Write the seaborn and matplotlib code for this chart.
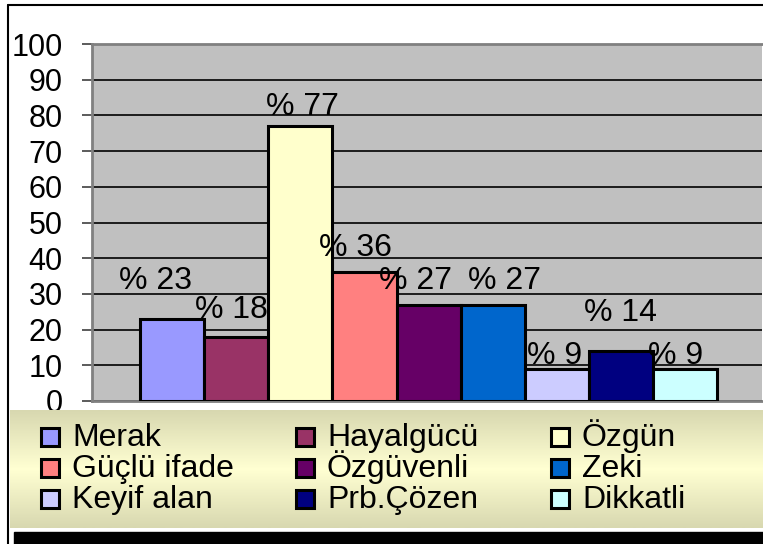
import numpy as np
import pandas as pd
import matplotlib
matplotlib.use("Agg")
import matplotlib.pyplot as plt
import seaborn as sns
from matplotlib.patches import Rectangle
from matplotlib.lines import Line2D

categories = ["Merak", "Hayalgücü", "Özgün", "Güçlü ifade", "Özgüvenli",
              "Zeki", "Keyif alan", "Prb.Çözen", "Dikkatli"]
values = [23, 18, 77, 36, 27, 27, 9, 14, 9]
colors = ["#9999FF", "#993366", "#FFFFCC", "#FF8080", "#660066",
          "#0066CC", "#CCCCFF", "#000080", "#CCFFFF"]
yticks = [0, 10, 20, 30, 40, 50, 60, 70, 80, 90, 100]

# label nudges (pixels) so the value labels sit like in the original
label_dx = [-17, -5, 2, -9, -13, 12, -2, 0, -9]
label_dy = [30, 19, 11, 16, 16, 16, 5, 30, 5]

df = pd.DataFrame({"cat": categories, "val": values})

sns.set_style("white")
plt.rcParams["font.family"] = ["Liberation Sans", "DejaVu Sans"]
plt.rcParams["text.color"] = "black"
plt.rcParams["ytick.labelcolor"] = "black"

W, H = 763, 544
fig = plt.figure(figsize=(W / 100, H / 100), dpi=100)
fig.patch.set_facecolor("white")

ax = fig.add_axes([92 / W, 1 - 401 / H, (762 - 92) / W, (401 - 44) / H])
sns.barplot(df, x="cat", y="val", hue="cat", palette=colors, width=1.0,
            saturation=1, edgecolor="black", linewidth=2.2, legend=False,
            ax=ax, zorder=3)
ax.set_facecolor("#C0C0C0")
ax.set_xlim(-1.25, 9.2)
ax.set_ylim(0, 100)
ax.set_yticks(yticks)
ax.set_xticks([])
ax.set_xlabel("")
ax.set_ylabel("")
ax.tick_params(axis="y", labelsize=22, length=7, width=1.2, pad=14,
               color="#404040", left=True)
ax.yaxis.grid(True, color="black", linewidth=1.2, zorder=1)
ax.set_axisbelow(True)
for side in ["top", "left", "bottom"]:
    ax.spines[side].set_color("#808080")
    ax.spines[side].set_linewidth(2)
ax.spines["right"].set_visible(False)

for i, v in enumerate(values):
    ax.annotate(f"% {v}", xy=(i, v),
                xytext=(label_dx[i] * 0.72, label_dy[i] * 0.72),
                textcoords="offset points", ha="center", va="baseline",
                fontsize=23, color="black", zorder=5)

# legend box in pixel-like coordinates with a soft khaki gradient
lax = fig.add_axes([10 / W, 1 - 528 / H, 753 / W, 118 / H])
lax.set_xlim(10, 763)
lax.set_ylim(528, 410)
grad = np.concatenate([np.linspace(0, 1, 50), np.linspace(1, 0, 50)])[:, None]
cmap = matplotlib.colors.LinearSegmentedColormap.from_list(
    "khaki", ["#D8D8B0", "#FFFFD2"])
lax.imshow(grad, aspect="auto", cmap=cmap, extent=[10, 763, 528, 410])
lax.axis("off")

for i, (name, c) in enumerate(zip(categories, colors)):
    row, col = divmod(i, 3)
    mx = 41 + col * 255
    my = 437 + row * 31
    lax.add_patch(Rectangle((mx, my - 9), 18, 18, facecolor=c,
                            edgecolor="black", linewidth=2.2))
    lax.text(mx + 31, my + 9, name, fontsize=23, va="baseline", ha="left")

# frame lines and bottom black strip
fig.add_artist(Line2D([8 / W, 8 / W], [0, 1 - 5 / H], color="black", lw=1.5))
fig.add_artist(Line2D([8 / W, 1], [1 - 5 / H, 1 - 5 / H], color="black", lw=1.5))
fig.add_artist(Rectangle((14 / W, 0), 1, 12 / H, transform=fig.transFigure,
                         color="black"))

fig.savefig("out.png", dpi=100)
